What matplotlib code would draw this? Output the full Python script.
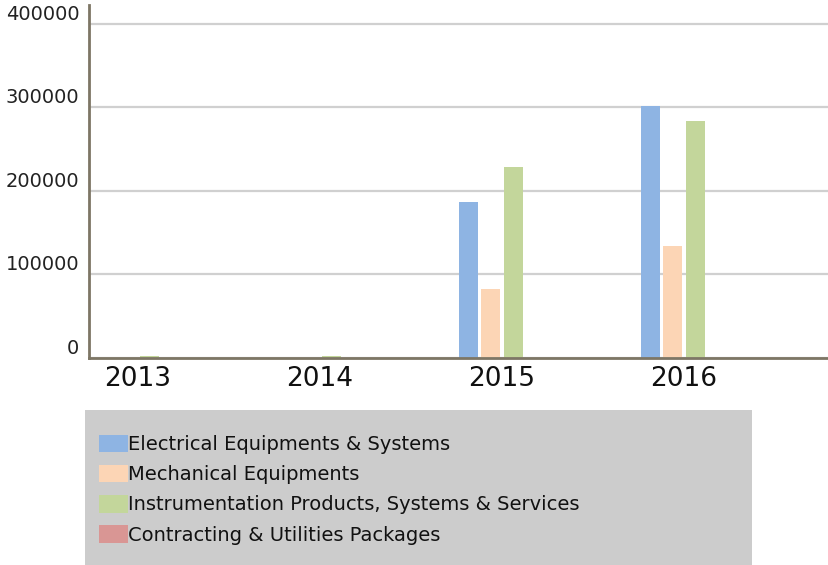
import matplotlib
matplotlib.use("Agg")
import matplotlib.pyplot as plt
import numpy as np
from matplotlib.patches import Rectangle

years = ["2013", "2014", "2015", "2016"]
series_names = ["Electrical Equipments & Systems", "Mechanical Equipments",
                "Instrumentation Products, Systems & Services",
                "Contracting & Utilities Packages"]
electrical = [0, 0, 186500, 301800]
mechanical = [0, 0, 82300, 133800]
instrumentation = [2000, 2000, 228400, 283500]
contracting = [0, 0, 0, 0]
colors = ["#8EB4E3", "#FCD5B5", "#C3D69B", "#D99694"]
yticks = [0, 100000, 200000, 300000, 400000]

W, H = 829, 565
fig = plt.figure(figsize=(W / 100, H / 100), dpi=100)
ax = fig.add_axes([89 / W, (H - 358) / H, (W - 89) / W, (358 - 5) / H])

x = np.arange(len(years))
step = 0.1236
bw = 0.104
all_series = [electrical, mechanical, instrumentation, contracting]
handles = []
for i, (vals, c, name) in enumerate(zip(all_series, colors, series_names)):
    b = ax.bar(x + (i - 1.5) * step, vals, width=bw, color=c, label=name, zorder=3)
    handles.append(b)

ax.set_xlim(-0.269, 3.797)
ax.set_ylim(0, 422400)
ax.set_yticks(yticks)
ax.set_yticklabels([str(v) for v in yticks], fontsize=14, color="#222222")
for lbl in ax.get_yticklabels():
    lbl.set_va("bottom")
ax.set_xticks(x)
ax.set_xticklabels(years, fontsize=19, color="#111111")
ax.tick_params(axis="both", length=0)
ax.tick_params(axis="y", pad=7)
ax.tick_params(axis="x", pad=6)

ax.grid(axis="y", color="#d0d0d0", linewidth=1.6, zorder=0)
ax.set_axisbelow(True)
for s in ["top", "right"]:
    ax.spines[s].set_visible(False)
for s in ["left", "bottom"]:
    ax.spines[s].set_color("#7d7665")
    ax.spines[s].set_linewidth(2)
    ax.spines[s].set_zorder(4)

fig.patches.append(Rectangle((85 / W, 0), (752 - 85) / W, (565 - 410) / H,
                             transform=fig.transFigure, facecolor="#cccccc",
                             edgecolor="none", zorder=0))

leg = fig.legend(handles=handles, labels=series_names, loc="upper left",
                 bbox_to_anchor=(99 / W, (H - 435) / H), frameon=False,
                 fontsize=14, handlelength=1.5, handleheight=1.0,
                 handletextpad=0.0, labelspacing=0.55, borderpad=0,
                 borderaxespad=0)
for t in leg.get_texts():
    t.set_color("#111111")

fig.savefig("out.png", dpi=100)
